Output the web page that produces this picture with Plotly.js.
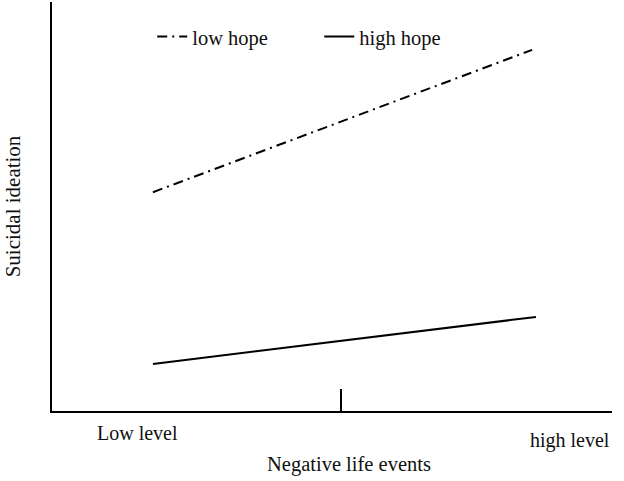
<!DOCTYPE html>
<html>
<head>
<meta charset="utf-8">
<script src="https://cdn.plot.ly/plotly-3.0.1.min.js"></script>
<style>
  html, body { margin:0; padding:0; background:#fff; }
  #chart { width:624px; height:481px; }
</style>
</head>
<body>
<div id="chart"></div>
<script>
// levels of negative life events (-1 = low, +1 = high)
const levels = [-1, 1];
const levelLabels = ['Low level', 'high level'];
const midTick = [-0.018];

// suicidal ideation (arbitrary scale 0-10)
const lowHope = [5.35, 8.83];
const highHope = [1.15, 2.30];

const seriesNames = ['low hope', 'high hope'];

const serif = 'Liberation Serif, Times New Roman, serif';

const traces = [
  {
    x: [levels[0], 0.98], y: lowHope, mode:'lines', name: seriesNames[0],
    line:{color:'#000', width:2, dash:'10px,5px,2px,5px'}
  },
  {
    x: levels, y: highHope, mode:'lines', name: seriesNames[1],
    line:{color:'#000', width:2}
  }
];

const layout = {
  width:624, height:481,
  margin:{l:52, r:12, t:2, b:70},
  paper_bgcolor:'#fff', plot_bgcolor:'#fff',
  font:{family:serif, size:20, color:'#111'},
  showlegend:true,
  legend:{
    orientation:'h', x:0.179, xanchor:'left', y:0.915, yanchor:'middle',
    font:{size:20.5}, entrywidth:122, bgcolor:'rgba(0,0,0,0)'
  },
  xaxis:{
    range:[-1.527, 1.397], showgrid:false, zeroline:false,
    showline:true, linecolor:'#000', linewidth:2,
    ticks:'inside', ticklen:22, tickwidth:2, tickcolor:'#000',
    tickvals:midTick, ticktext:[''], showticklabels:false, fixedrange:true
  },
  yaxis:{
    range:[0, 10], showgrid:false, zeroline:false,
    showline:true, linecolor:'#000', linewidth:2,
    ticks:'', showticklabels:false, fixedrange:true,
    title:{text:'Suicidal ideation', font:{size:21}, standoff:24}
  },
  annotations:[
    {text: levelLabels[0], x: -1.08, xref:'x', y:-0.054, yref:'paper', yanchor:'middle', showarrow:false, font:{size:20}},
    {text: levelLabels[1], x: 1.18, xref:'x', y:-0.071, yref:'paper', yanchor:'middle', showarrow:false, font:{size:20}},
    {text:'Negative life events', x:0.531, xref:'paper', y:-0.132, yref:'paper', yanchor:'middle', showarrow:false, font:{size:20.5}}
  ]
};

Plotly.newPlot('chart', traces, layout, {displayModeBar:false, staticPlot:true});
</script>
</body>
</html>
